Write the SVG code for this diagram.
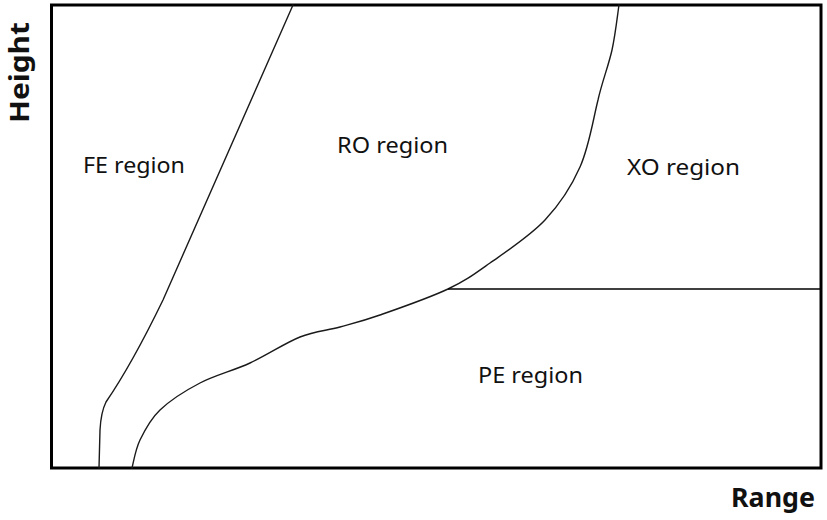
<svg xmlns="http://www.w3.org/2000/svg" width="827" height="520" viewBox="0 0 827 520">
<style>
.lbl{font-family:"Noto Sans","Liberation Sans",sans-serif;font-size:22px;fill:#111}
.ax{font-family:"Noto Sans","Liberation Sans",sans-serif;font-size:27px;font-weight:bold;fill:#111}
.crv{fill:none;stroke:#1a1a1a;stroke-width:1.4;stroke-linecap:round;stroke-linejoin:round}
</style>
<rect width="827" height="520" fill="#fff"/>
<g id="frame">
<rect x="51.5" y="5" width="769.5" height="463" fill="none" stroke="#000" stroke-width="3"/>
</g>
<g id="connectors">
<path id="fe-boundary" class="crv" d="M293,5 L163,300 Q132,364 106,402 Q101,412 100,430 L99,468"/>
<path id="ro-boundary" class="crv" d="M619,5 C617.8,12.5 615.5,34.2 612,50 C608.5,65.8 602,82 598,100 C593,120 589,147 580,167 C571.2,187 560,204 545,220 C530,236 506.2,251.5 490,263 C473.8,274.5 466.3,280.3 448,289 C429.7,297.7 398,308.7 380,315 C362,321.3 353.3,323.3 340,327 C326.7,330.7 315,331 300,337 C285,343 266.7,355.3 250,363 C233.3,370.7 215,375.2 200,383 C185,390.8 170,400.5 160,410 C150,419.5 144.7,430.3 140,440 C135.3,449.7 133.3,463.3 132,468"/>
<path id="pe-boundary" d="M448,289 L821,289" stroke="#000" stroke-width="1.6" fill="none"/>
</g>
<g id="fe-region"><text class="lbl" x="83" y="173" textLength="102" lengthAdjust="spacingAndGlyphs">FE region</text></g>
<g id="ro-region"><text class="lbl" x="337" y="153" textLength="111" lengthAdjust="spacingAndGlyphs">RO region</text></g>
<g id="xo-region"><text class="lbl" x="627" y="175" textLength="113" lengthAdjust="spacingAndGlyphs">XO region</text></g>
<g id="pe-region"><text class="lbl" x="478" y="383" textLength="105" lengthAdjust="spacingAndGlyphs">PE region</text></g>
<g id="x-axis-label"><text class="ax" x="731" y="507" textLength="84" lengthAdjust="spacingAndGlyphs">Range</text></g>
<g id="y-axis-label"><text class="ax" style="font-size:26px" transform="translate(29,123) rotate(-90)" x="0" y="0" textLength="101" lengthAdjust="spacingAndGlyphs">Height</text></g>
</svg>
